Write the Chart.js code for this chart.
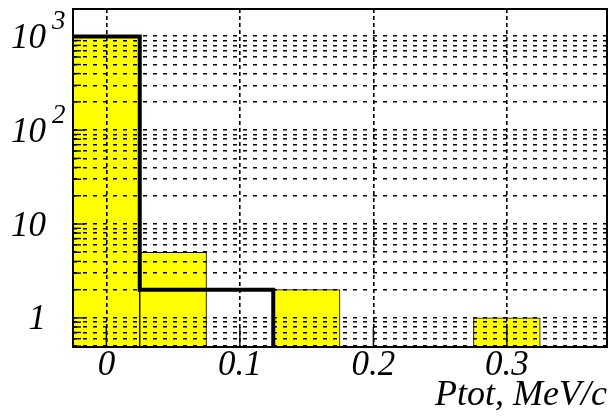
<!DOCTYPE html>
<html><head><meta charset="utf-8">
<script src="https://cdn.jsdelivr.net/npm/chart.js@4/dist/chart.umd.min.js"></script>
<style>html,body{margin:0;padding:0;background:#fff}#wrap{width:611px;height:419px}</style>
</head><body><div id="wrap"><canvas id="c" width="611" height="419"></canvas></div>
<script>
// ---- data ----
const binCenters = [0, 0.05, 0.10, 0.15, 0.20, 0.25, 0.30, 0.35];
const binWidth = 0.05;
const yellowCounts = [992, 5, 0, 2, 0, 0, 1, 0];
const blackCounts = [996, 2, 2, 0, 0, 0, 0, 0];
const xTickValues = [0, 0.1, 0.2, 0.3];
const yLabelValues = [1, 10, 100, 1000];
const xLabel = 'Ptot, MeV/c';
const xRange = [-0.025, 0.375];
const yRange = [0.49, 1950];

const FONT = "'Liberation Serif', 'Times New Roman', serif";

// yellow histogram as bars
const yellowData = binCenters.map((c, i) => ({x: c, y: yellowCounts[i] > 0 ? yellowCounts[i] : null}));
// black histogram outline as a step line over bin edges
let lastBin = -1;
blackCounts.forEach((v, i) => { if (v > 0) lastBin = i; });
const blackData = [];
for (let i = 0; i <= lastBin; i++) {
  blackData.push({x: binCenters[i] - binWidth / 2, y: blackCounts[i] > 0 ? blackCounts[i] : yRange[0]});
}
blackData.push({x: binCenters[lastBin] + binWidth / 2, y: yRange[0]});

const framePlugin = {
  id: 'frame',
  afterDraw(chart) {
    const ctx = chart.ctx, a = chart.chartArea;
    const xs = chart.scales.x, ys = chart.scales.y;
    ctx.save();
    ctx.strokeStyle = '#000';
    // inner y ticks
    ctx.lineWidth = 1.4;
    ys.ticks.forEach(t => {
      const py = ys.getPixelForValue(t.value);
      const lg = Math.log10(t.value);
      const major = Math.abs(lg - Math.round(lg)) < 1e-9;
      const len = major ? 12 : 8;
      ctx.beginPath(); ctx.moveTo(a.left, py); ctx.lineTo(a.left + len, py); ctx.stroke();
    });
    // inner x ticks
    xs.ticks.forEach(t => {
      const px = xs.getPixelForValue(t.value);
      ctx.beginPath(); ctx.moveTo(px, a.bottom); ctx.lineTo(px, a.bottom - 20); ctx.stroke();
    });
    // frame
    ctx.lineWidth = 2;
    ctx.strokeRect(a.left, a.top, a.right - a.left, a.bottom - a.top);
    // y labels
    ctx.fillStyle = '#000';
    yLabelValues.forEach(v => {
      const py = ys.getPixelForValue(v);
      const e = Math.round(Math.log10(v));
      ctx.font = 'italic 35px ' + FONT;
      ctx.textAlign = 'right';
      ctx.textBaseline = 'alphabetic';
      if (e === 0) { ctx.fillText('1', 46, py + 11.5); }
      else if (e === 1) { ctx.fillText('10', 46, py + 11.5); }
      else {
        ctx.fillText('10', 46, py + 11.5);
        ctx.font = 'italic 27px ' + FONT;
        ctx.textAlign = 'left';
        ctx.fillText(String(e), 52, py - 7);
      }
    });
    ctx.restore();
  }
};

new Chart(document.getElementById('c'), {
  type: 'bar',
  data: {
    datasets: [
      {
        type: 'line', order: 1, data: blackData,
        borderColor: '#000', borderWidth: 4, pointRadius: 0, stepped: 'before', fill: false,
        borderJoinStyle: 'miter'
      },
      {
        type: 'bar', order: 2, data: yellowData,
        backgroundColor: '#ffff00', borderColor: '#000', borderWidth: 1, borderSkipped: false,
        barPercentage: 1, categoryPercentage: 1
      }
    ]
  },
  options: {
    responsive: false, animation: false,
    layout: {padding: {top: 9, right: 4, left: 0, bottom: 0}},
    plugins: {legend: {display: false}, tooltip: {enabled: false}},
    scales: {
      x: {
        type: 'linear', min: xRange[0], max: xRange[1], offset: false,
        afterBuildTicks: s => { s.ticks = xTickValues.map(v => ({value: v})); },
        afterFit: s => { s.height = 72; },
        ticks: {
          color: '#000', font: {family: FONT, style: 'italic', size: 35, lineHeight: 1.2},
          padding: -2, maxRotation: 0, autoSkip: false,
          callback: v => String(Math.round(v * 10) / 10)
        },
        grid: {display: true, color: '#000', lineWidth: 1.6, drawTicks: false, offset: false, z: 1},
        border: {display: false, dash: [4, 3]},
        title: {
          display: true, text: xLabel, align: 'end', color: '#000',
          font: {family: FONT, style: 'italic', size: 36, lineHeight: 1.2},
          padding: {top: 0, bottom: 2}
        }
      },
      y: {
        type: 'logarithmic', min: yRange[0], max: yRange[1],
        afterBuildTicks: s => {
          const t = [];
          for (let e = -1; e <= 3; e++) for (let m = 1; m <= 9; m++) {
            const v = m * Math.pow(10, e);
            if (v >= yRange[0] && v <= yRange[1]) t.push({value: v});
          }
          s.ticks = t;
        },
        afterFit: s => { s.width = 73; },
        ticks: {display: false},
        grid: {display: true, color: '#000', lineWidth: 1.6, drawTicks: false, z: 1},
        border: {display: false, dash: [4, 6]}
      }
    }
  },
  plugins: [framePlugin]
});
</script></body></html>
